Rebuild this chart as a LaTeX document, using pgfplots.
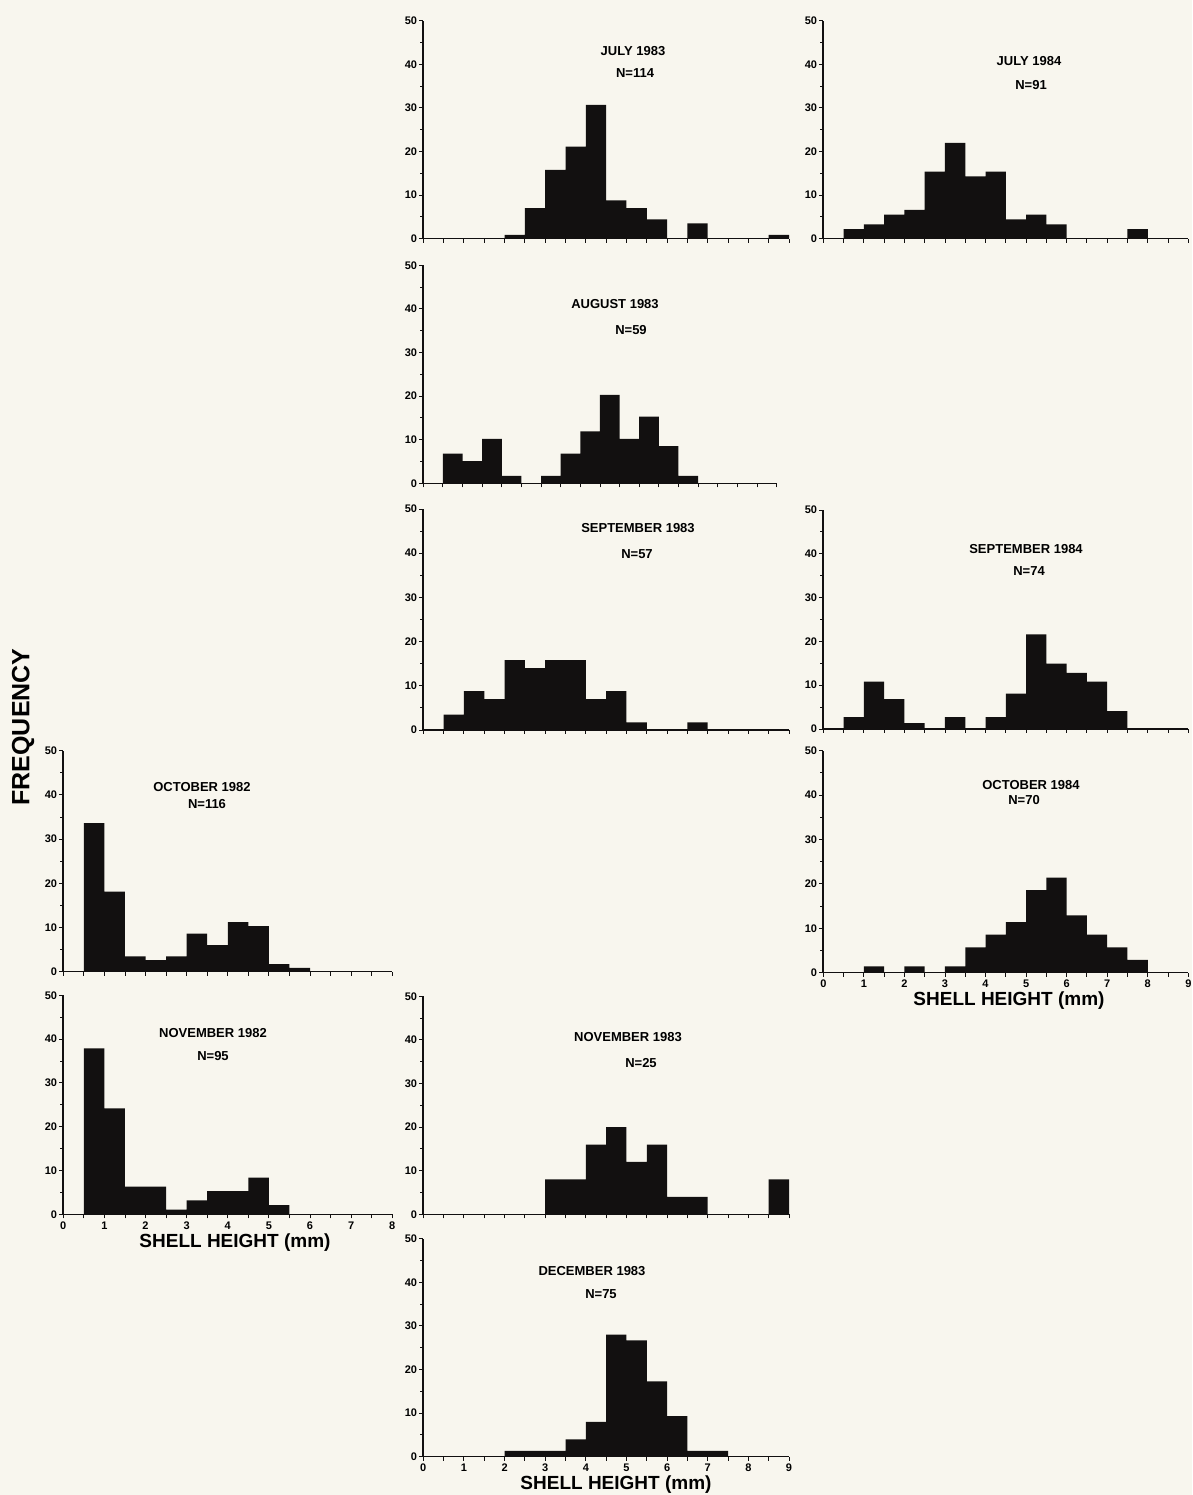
\documentclass[border=0pt]{standalone}
\usepackage{fontspec}
\setmainfont{Liberation Sans}
\usepackage{pgfplots}
\pgfplotsset{compat=1.18}
\definecolor{paper}{RGB}{248,246,238}
\definecolor{ink}{RGB}{18,16,16}
\pgfplotsset{
  panel/.style={
    scale only axis,
    anchor=south west,
    xmin=0, ymin=0, ymax=50,
    axis lines=left,
    axis line style={-, draw=ink},
    x axis line style={line width=1.1pt},
    y axis line style={line width=1.8pt},
    ytick={0,10,20,30,40,50},
    minor ytick={5,15,25,35,45},
    tick align=outside,
    major tick length=4pt,
    minor tick length=3pt,
    every tick/.append style={ink, line width=0.9pt},
    every minor tick/.append style={ink, line width=0.8pt},
    yticklabel style={font=\bfseries\fontsize{11}{12}\selectfont, inner sep=1pt, xshift=-1pt},
    xticklabel style={font=\bfseries\fontsize{11}{12}\selectfont, inner sep=1pt, yshift=-2pt},
    /pgf/number format/assume math mode=true,
    clip=false,
  },
  x9/.style={xmax=9, xtick={0,0.5,1,1.5,2,2.5,3,3.5,4,4.5,5,5.5,6,6.5,7,7.5,8,8.5,9}},
  x8/.style={xmax=8, xtick={0,0.5,1,1.5,2,2.5,3,3.5,4,4.5,5,5.5,6,6.5,7,7.5,8}},
  nox/.style={xticklabels={}},
  lab9/.style={xticklabels={0,,1,,2,,3,,4,,5,,6,,7,,8,,9}},
  lab8/.style={xticklabels={0,,1,,2,,3,,4,,5,,6,,7,,8}},
  hist/.style={ybar interval, fill=ink, draw=none},
}
\newcommand{\ttl}{\bfseries\fontsize{13}{14}\selectfont}
\newcommand{\xl}{\bfseries\fontsize{19}{20}\selectfont}
\begin{document}
\begin{tikzpicture}
\fill[paper] (0,0) rectangle (1192pt,1495pt);
\path[use as bounding box] (0,0) rectangle (1192pt,1495pt);

% JULY 1983
\begin{axis}[panel, x9, nox, at={(423.3pt,1256.3pt)}, width=365.7pt, height=218pt]
\addplot[hist] coordinates {(2,0.9) (2.5,7.0) (3,15.8) (3.5,21.1) (4,30.7) (4.5,8.8) (5,7.0) (5.5,4.4) (6,0) (6.5,3.5) (7,0) (7.5,0) (8,0) (8.5,0.9) (9,0)};
\end{axis}
% JULY 1984
\begin{axis}[panel, x9, nox, at={(823.3pt,1256.3pt)}, width=365pt, height=218pt]
\addplot[hist] coordinates {(0.5,2.2) (1,3.3) (1.5,5.5) (2,6.6) (2.5,15.4) (3,22.0) (3.5,14.3) (4,15.4) (4.5,4.4) (5,5.5) (5.5,3.3) (6,0) (6.5,0) (7,0) (7.5,2.2) (8,0)};
\end{axis}
% AUGUST 1983
\begin{axis}[panel, x9, nox, at={(423.3pt,1011.7pt)}, width=353.3pt, height=218pt]
\addplot[hist] coordinates {(0.5,6.8) (1,5.1) (1.5,10.2) (2,1.7) (2.5,0) (3,1.7) (3.5,6.8) (4,11.9) (4.5,20.3) (5,10.2) (5.5,15.3) (6,8.5) (6.5,1.7) (7,0)};
\end{axis}
% SEPTEMBER 1983
\begin{axis}[panel, x9, nox, at={(423.3pt,765pt)}, width=365.7pt, height=221pt]
\addplot[hist] coordinates {(0.5,3.5) (1,8.8) (1.5,7.0) (2,15.8) (2.5,14.0) (3,15.8) (3.5,15.8) (4,7.0) (4.5,8.8) (5,1.75) (5.5,0) (6,0) (6.5,1.75) (7,0)};
\end{axis}
% SEPTEMBER 1984
\begin{axis}[panel, x9, nox, at={(823.3pt,766pt)}, width=365pt, height=219pt]
\addplot[hist] coordinates {(0.5,2.7) (1,10.8) (1.5,6.8) (2,1.35) (2.5,0) (3,2.7) (3.5,0) (4,2.7) (4.5,8.1) (5,21.6) (5.5,14.9) (6,12.8) (6.5,10.8) (7,4.05) (7.5,0)};
\end{axis}
% OCTOBER 1984
\begin{axis}[panel, x9, lab9, at={(823.3pt,522.3pt)}, width=365pt, height=222pt]
\addplot[hist] coordinates {(1,1.43) (1.5,0) (2,1.43) (2.5,0) (3,1.43) (3.5,5.7) (4,8.6) (4.5,11.4) (5,18.6) (5.5,21.4) (6,12.9) (6.5,8.6) (7,5.7) (7.5,2.9) (8,0)};
\end{axis}
% OCTOBER 1982
\begin{axis}[panel, x8, nox, at={(63.3pt,523.3pt)}, width=329pt, height=221pt]
\addplot[hist] coordinates {(0.5,33.6) (1,18.1) (1.5,3.45) (2,2.6) (2.5,3.45) (3,8.6) (3.5,6.0) (4,11.2) (4.5,10.3) (5,1.7) (5.5,0.86) (6,0)};
\end{axis}
% NOVEMBER 1982
\begin{axis}[panel, x8, lab8, at={(63.3pt,280.7pt)}, width=329pt, height=219pt]
\addplot[hist] coordinates {(0.5,37.9) (1,24.2) (1.5,6.3) (2,6.3) (2.5,1.05) (3,3.2) (3.5,5.3) (4,5.3) (4.5,8.4) (5,2.1) (5.5,0)};
\end{axis}
% NOVEMBER 1983
\begin{axis}[panel, x9, nox, at={(423.3pt,280.7pt)}, width=365.7pt, height=218pt]
\addplot[hist] coordinates {(3,8) (3.5,8) (4,16) (4.5,20) (5,12) (5.5,16) (6,4) (6.5,4) (7,0) (7.5,0) (8,0) (8.5,8) (9,0)};
\end{axis}
% DECEMBER 1983
\begin{axis}[panel, x9, lab9, at={(423.3pt,38.3pt)}, width=365.7pt, height=218pt]
\addplot[hist] coordinates {(2,1.33) (2.5,1.33) (3,1.33) (3.5,4.0) (4,8.0) (4.5,28.0) (5,26.7) (5.5,17.3) (6,9.3) (6.5,1.33) (7,1.33) (7.5,0)};
\end{axis}

% panel titles
\node[font=\ttl] at (633pt,1444pt) {JULY 1983};
\node[font=\ttl] at (635pt,1422pt) {N=114};
\node[font=\ttl] at (1029pt,1434pt) {JULY 1984};
\node[font=\ttl] at (1031pt,1410pt) {N=91};
\node[font=\ttl] at (615pt,1191pt) {AUGUST 1983};
\node[font=\ttl] at (631pt,1165pt) {N=59};
\node[font=\ttl] at (638pt,967pt) {SEPTEMBER 1983};
\node[font=\ttl] at (637pt,941pt) {N=57};
\node[font=\ttl] at (1026pt,946pt) {SEPTEMBER 1984};
\node[font=\ttl] at (1029pt,924pt) {N=74};
\node[font=\ttl] at (1031pt,710pt) {OCTOBER 1984};
\node[font=\ttl] at (1024pt,695pt) {N=70};
\node[font=\ttl] at (202pt,708pt) {OCTOBER 1982};
\node[font=\ttl] at (207pt,691pt) {N=116};
\node[font=\ttl] at (213pt,462pt) {NOVEMBER 1982};
\node[font=\ttl] at (213pt,439pt) {N=95};
\node[font=\ttl] at (628pt,458pt) {NOVEMBER 1983};
\node[font=\ttl] at (641pt,432pt) {N=25};
\node[font=\ttl] at (592pt,224pt) {DECEMBER 1983};
\node[font=\ttl] at (601pt,201pt) {N=75};

% axis labels
\node[font=\xl] at (1009pt,494pt) {SHELL HEIGHT (mm)};
\node[font=\xl] at (235pt,252pt) {SHELL HEIGHT (mm)};
\node[font=\xl] at (616pt,10pt) {SHELL HEIGHT (mm)};
\node[font=\bfseries\fontsize{25}{27}\selectfont, rotate=90] at (23pt,768pt) {FREQUENCY};
\end{tikzpicture}
\end{document}
